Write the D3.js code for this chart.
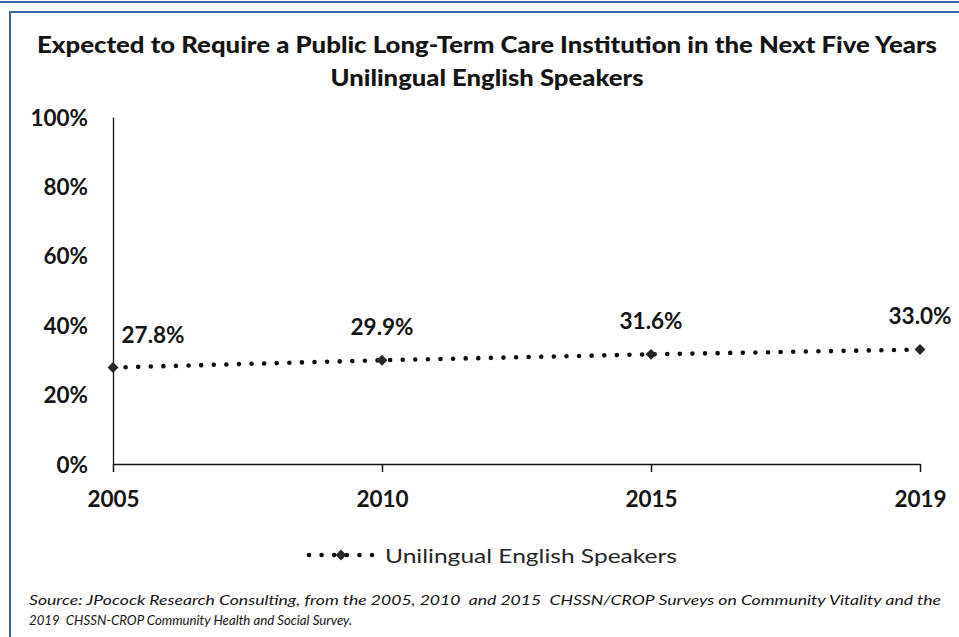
<!DOCTYPE html>
<html><head><meta charset="utf-8">
<script src="https://cdn.jsdelivr.net/npm/d3@7"></script>
<style>body{margin:0;background:#fff}svg{display:block}</style>
</head><body>
<script>
const years = ["2005", "2010", "2015", "2019"];
const values = [27.8, 29.9, 31.6, 33.0];
const yTicks = [0, 20, 40, 60, 80, 100];
const seriesName = "Unilingual English Speakers";
const titleLines = ["Expected to Require a Public Long-Term Care Institution in the Next Five Years", "Unilingual English Speakers"];
const sourceLines = ["Source: JPocock Research Consulting, from the 2005, 2010  and 2015  CHSSN/CROP Surveys on Community Vitality and the", "2019  CHSSN-CROP Community Health and Social Survey."];

const W = 959, H = 637;
const svg = d3.select("body").append("svg").attr("width", W).attr("height", H);
const font = "Lato, 'Open Sans', sans-serif";
const frame = "#3f64a8";
const ink = "#141414";

// frame
svg.append("line").attr("x1", 0).attr("x2", W).attr("y1", 2).attr("y2", 2).attr("stroke", frame).attr("stroke-width", 2);
svg.append("path").attr("d", `M10,${H}V12H${W}`).attr("fill", "none").attr("stroke", frame).attr("stroke-width", 2);

// title
svg.selectAll("text.title").data(titleLines).enter().append("text")
  .attr("x", 487).attr("y", (d, i) => 53 + i * 33)
  .attr("text-anchor", "middle").attr("font-family", font).attr("font-weight", 900)
  .attr("font-size", 22).attr("fill", ink)
  .attr("textLength", (d, i) => i === 0 ? 900 : 313).attr("lengthAdjust", "spacingAndGlyphs")
  .text(d => d);

const x = d3.scalePoint().domain(years).range([113, 920]);
const y = d3.scaleLinear().domain([0, 100]).range([464, 117]);

// y axis
const ya = svg.append("g").attr("transform", "translate(113,0)")
  .call(d3.axisLeft(y).tickValues(yTicks).tickSize(0).tickPadding(25).tickFormat(d => d + "%"));
ya.select(".domain").attr("stroke", ink).attr("stroke-width", 1.3);
ya.selectAll("text").attr("font-family", font).attr("font-weight", "bold").attr("font-size", 22.5).attr("fill", ink).attr("dy", "0.36em");

// x axis
const xa = svg.append("g").attr("transform", "translate(0,464)")
  .call(d3.axisBottom(x).tickSize(8).tickSizeOuter(0));
xa.select(".domain").attr("stroke", ink).attr("stroke-width", 1.5);
xa.selectAll(".tick line").attr("stroke", ink).attr("stroke-width", 1.5);
xa.selectAll("text").attr("font-family", font).attr("font-weight", "bold").attr("font-size", 22.5).attr("fill", ink)
  .attr("y", 43).attr("dy", 0);

// line
const dotStyle = sel => sel.attr("fill", "none").attr("stroke", "#0d0d0d").attr("stroke-width", 4.6)
  .attr("stroke-linecap", "round").attr("stroke-dasharray", "0,12.6");
const line = d3.line().x((d, i) => x(years[i])).y(d => y(d));
svg.append("path").datum(values).attr("d", line).call(dotStyle);

const diamond = d3.symbol().type(d3.symbolDiamond2).size(75);
svg.selectAll("path.mk").data(values).enter().append("path").attr("class", "mk")
  .attr("transform", (d, i) => `translate(${x(years[i])},${y(d)})`)
  .attr("d", diamond).attr("fill", "#262626");

// labels
const labelDx = [40, 0, 0, 0];
svg.selectAll("text.lbl").data(values).enter().append("text").attr("class", "lbl")
  .attr("x", (d, i) => x(years[i]) + labelDx[i]).attr("y", d => y(d) - 25)
  .attr("text-anchor", "middle").attr("font-family", font).attr("font-weight", "bold")
  .attr("font-size", 22.5).attr("fill", ink).text(d => d.toFixed(1) + "%");

// legend
const lg = svg.append("g");
lg.append("path").attr("d", "M309,555H378").call(dotStyle);
lg.append("path").attr("transform", "translate(341,555)").attr("d", diamond).attr("fill", "#262626");
lg.append("text").attr("x", 385).attr("y", 563).attr("font-family", font).attr("font-size", 19.5)
  .attr("fill", "#262626").attr("textLength", 292).attr("lengthAdjust", "spacingAndGlyphs").text(seriesName);

// source
svg.selectAll("text.src").data(sourceLines).enter().append("text")
  .attr("x", 29).attr("y", (d, i) => 605 + i * 20)
  .attr("font-family", font).attr("font-style", "italic").attr("font-size", 14).attr("fill", ink)
  .attr("textLength", (d, i) => i === 0 ? 912 : 323).attr("lengthAdjust", "spacingAndGlyphs")
  .style("white-space", "pre").text(d => d);
</script>
</body></html>
